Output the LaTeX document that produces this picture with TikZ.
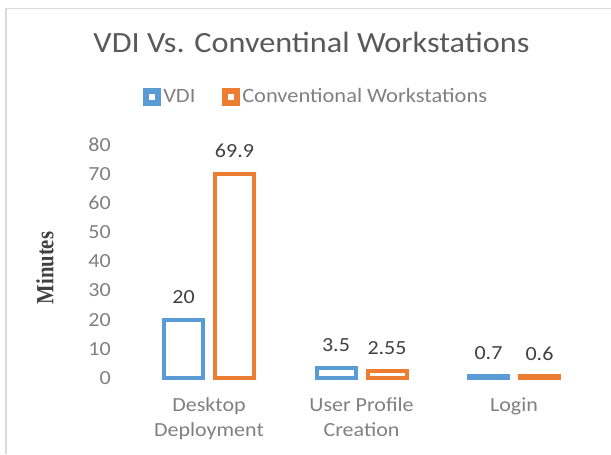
\documentclass[tikz,border=0pt]{standalone}
\usepackage{fontspec}
\setmainfont{Carlito}[FakeStretch=1.1]
\newfontfamily\minutesfont{Liberation Serif}
\definecolor{vdiblue}{HTML}{5B9BD5}
\definecolor{convorange}{HTML}{ED7D31}
\definecolor{titlegray}{HTML}{595959}
\definecolor{labelgray}{HTML}{404040}
\definecolor{tickgray}{HTML}{808080}
\definecolor{framegray}{HTML}{D9D9D9}
\begin{document}
\begin{tikzpicture}[x=0.75pt, y=-0.75pt,
    bar/.style={line width=3pt},
    legendbox/.style={line width=3.8pt},
    ticklabel/.style={anchor=east, inner sep=0pt, text=tickgray, font=\fontsize{15}{18}\selectfont},
    datalabel/.style={anchor=base, inner sep=0pt, text=labelgray, font=\fontsize{15}{18}\selectfont},
    catlabel/.style={anchor=north, inner sep=0pt, align=center, text=tickgray, font=\fontsize{15}{18.75}\selectfont},
    legendtext/.style={anchor=base west, inner sep=0pt, text=tickgray, font=\fontsize{15.3}{17}\selectfont}]
  \useasboundingbox (0,0) rectangle (611,454);
  \draw[framegray, line width=1.4pt] (6,454) -- (6,8.5) -- (611,8.5);
  \node[anchor=base, inner sep=0pt, text=titlegray, font=\fontsize{22}{26}\selectfont] (title) at (311.5,52) {VDI Vs. Conventinal Workstations};
  \draw[legendbox, vdiblue] (146,91) rectangle (158,103);
  \node[legendtext] (legvdi) at (163,102) {VDI};
  \draw[legendbox, convorange] (225,91) rectangle (237,103);
  \node[legendtext] (legconv) at (242,102) {Conventional Workstations};
  \foreach \v in {0,10,...,80}
    \node[ticklabel] (tick\v) at (111,{378-2.92*\v}) {\v};
  \node[rotate=90, inner sep=0pt, text=labelgray, font=\minutesfont\bfseries\fontsize{18.5}{20}\selectfont] (ytitle) at (45,268) {\scalebox{0.84}[1]{Minutes}};
  \foreach \c/\a/\b/\name [count=\i] in {209/20/69.9/{Desktop\\Deployment}, 361.5/3.5/2.55/{User Profile\\Creation}, 514/0.7/0.6/{Login}} {
    \draw[bar, vdiblue] ({\c-45},378) rectangle ({\c-6},{378-2.92*\a});
    \draw[bar, convorange] ({\c+6},378) rectangle ({\c+45},{378-2.92*\b});
    \node[datalabel] (vdi\i) at ({\c-25.5},{378-2.92*\a-16}) {\a};
    \node[datalabel] (conv\i) at ({\c+25.5},{378-2.92*\b-16}) {\b};
    \node[catlabel] (cat\i) at (\c,397) {\name};
  }
\end{tikzpicture}
\end{document}
